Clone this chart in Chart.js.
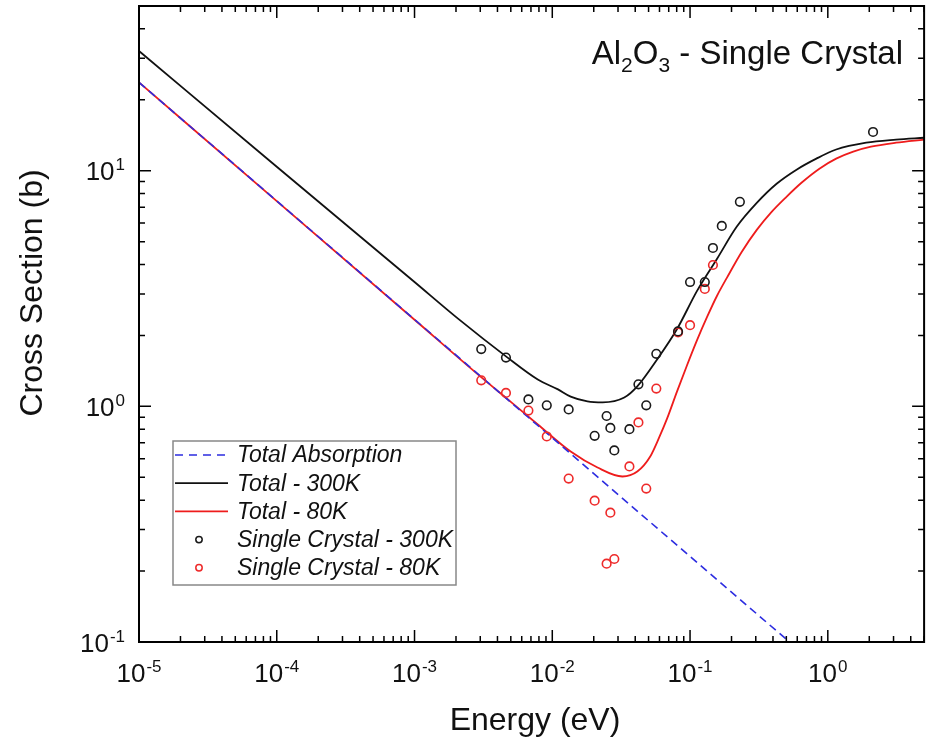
<!DOCTYPE html>
<html>
<head>
<meta charset="utf-8">
<script src="https://cdn.jsdelivr.net/npm/chart.js@4.4.1/dist/chart.umd.min.js"></script>
<style>
  html, body { margin: 0; padding: 0; background: #fff; }
  canvas { display: block; }
</style>
</head>
<body>
<canvas id="chartAl2O3" width="930" height="740"></canvas>
<script>
// Total absorption (1/v line), read where it enters and leaves the frame
const absEnergy = [1e-5, 0.527];
const absSigma = [23.7, 0.1];

// Total cross section, 300 K
const total300Energy = [1e-5, 1e-4, 1e-3, 2.08e-3, 4.61e-3, 7.85e-3, 0.011, 0.0136, 0.018, 0.0232,
  0.0333, 0.0414, 0.0578, 0.0805, 0.1124, 0.1567, 0.218, 0.305, 0.425, 0.593,
  0.826, 1.15, 1.9, 3.13, 5.0];
const total300Sigma = [32.2, 10.4, 3.37, 2.35, 1.63, 1.3, 1.18, 1.1, 1.05, 1.04,
  1.09, 1.216, 1.585, 2.13, 3.09, 4.22, 5.78, 7.3, 8.8, 10.1,
  11.25, 12.3, 13.15, 13.55, 13.8];

// Total cross section, 80 K
const total80Energy = [1e-5, 1e-4, 1e-3, 3e-3, 5e-3, 7.85e-3, 0.0136, 0.0213, 0.0323, 0.0414,
  0.0514, 0.0597, 0.0682, 0.0805, 0.0951, 0.1124, 0.1327, 0.1567, 0.185, 0.237,
  0.305, 0.391, 0.501, 0.644, 0.869, 1.15, 1.53, 2.06, 3.13, 5.0];
const total80Sigma = [23.7, 7.43, 2.33, 1.34, 1.045, 0.838, 0.643, 0.55, 0.504, 0.529,
  0.613, 0.738, 0.889, 1.158, 1.495, 1.91, 2.39, 2.94, 3.51, 4.52,
  5.61, 6.69, 7.75, 8.89, 10.2, 11.25, 12.05, 12.65, 13.15, 13.55];

// Measured single crystal, 300 K
const crystal300Energy = [3.05e-3, 4.61e-3, 6.71e-3, 9.12e-3, 0.01315, 0.0203, 0.0248, 0.0264, 0.0282, 0.0363,
  0.0422, 0.0481, 0.0569, 0.0818, 0.1, 0.128, 0.1466, 0.17, 0.23, 2.13];
const crystal300Sigma = [1.75, 1.61, 1.07, 1.01, 0.97, 0.75, 0.91, 0.81, 0.65, 0.8,
  1.24, 1.01, 1.67, 2.08, 3.37, 3.37, 4.7, 5.83, 7.38, 14.6];

// Measured single crystal, 80 K
const crystal80Energy = [3.05e-3, 4.61e-3, 6.71e-3, 9.12e-3, 0.01315, 0.0203, 0.0248, 0.0264, 0.0282, 0.0363,
  0.0422, 0.0481, 0.0569, 0.0818, 0.1, 0.128, 0.1466];
const crystal80Sigma = [1.29, 1.14, 0.96, 0.745, 0.494, 0.398, 0.215, 0.354, 0.225, 0.556,
  0.855, 0.448, 1.19, 2.06, 2.21, 3.15, 3.98];

const xTickExponents = [-5, -4, -3, -2, -1, 0];
const yTickExponents = [-1, 0, 1];
const X_MIN = 1e-5;
const X_MAX = 5;
const Y_MIN = 0.1;
const Y_MAX = 50;

const FONT = '"Liberation Sans", Arial, Helvetica, sans-serif';

const toPoints = (xs, ys) => xs.map((x, i) => ({ x, y: ys[i] }));

function drawPower(ctx, exp, x, baseline, align) {
  ctx.font = `26px ${FONT}`;
  const wBase = ctx.measureText('10').width;
  ctx.font = `17px ${FONT}`;
  const wExp = ctx.measureText(String(exp)).width;
  const total = wBase + wExp + 1;
  const left = align === 'center' ? x - total / 2 : x - total;
  ctx.textAlign = 'left';
  ctx.textBaseline = 'alphabetic';
  ctx.font = `26px ${FONT}`;
  ctx.fillText('10', left, baseline);
  ctx.font = `17px ${FONT}`;
  ctx.fillText(String(exp), left + wBase + 1, baseline - 10);
}

const decorPlugin = {
  id: 'decor',
  afterDatasetsDraw(chart) {
    const { ctx, chartArea: a, scales: { x, y } } = chart;
    ctx.save();
    ctx.strokeStyle = '#000';

    // inward ticks on all four sides
    ctx.lineWidth = 1.5;
    ctx.beginPath();
    for (let d = -5; d <= 0; d++) {
      for (let m = 1; m <= 9; m++) {
        const v = m * Math.pow(10, d);
        if (v < X_MIN || v > X_MAX) continue;
        const px = x.getPixelForValue(v);
        const len = m === 1 ? 12 : 6;
        ctx.moveTo(px, a.bottom); ctx.lineTo(px, a.bottom - len);
        ctx.moveTo(px, a.top); ctx.lineTo(px, a.top + len);
      }
    }
    for (let d = -1; d <= 1; d++) {
      for (let m = 1; m <= 9; m++) {
        const v = m * Math.pow(10, d);
        if (v < Y_MIN || v > Y_MAX) continue;
        const py = y.getPixelForValue(v);
        const len = m === 1 ? 12 : 6;
        ctx.moveTo(a.left, py); ctx.lineTo(a.left + len, py);
        ctx.moveTo(a.right, py); ctx.lineTo(a.right - len, py);
      }
    }
    ctx.stroke();

    // frame
    ctx.lineWidth = 2;
    ctx.strokeRect(a.left, a.top, a.right - a.left, a.bottom - a.top);

    // tick labels
    ctx.fillStyle = '#111';
    xTickExponents.forEach((e) => {
      drawPower(ctx, e, x.getPixelForValue(Math.pow(10, e)), a.bottom + 40, 'center');
    });
    yTickExponents.forEach((e) => {
      drawPower(ctx, e, a.left - 14, y.getPixelForValue(Math.pow(10, e)) + 9.5, 'right');
    });

    // axis titles
    ctx.font = `32px ${FONT}`;
    ctx.textAlign = 'center';
    ctx.textBaseline = 'alphabetic';
    ctx.fillText('Energy (eV)', 535, 730);
    ctx.save();
    ctx.translate(42, 293);
    ctx.rotate(-Math.PI / 2);
    ctx.fillText('Cross Section (b)', 0, 0);
    ctx.restore();

    // plot title with subscripts
    const parts = [['Al', false], ['2', true], ['O', false], ['3', true], [' - Single Crystal', false]];
    const widths = parts.map(([t, sub]) => {
      ctx.font = `${sub ? 21 : 33}px ${FONT}`;
      return ctx.measureText(t).width;
    });
    let tx = 903 - widths.reduce((s, w) => s + w, 0);
    ctx.textAlign = 'left';
    parts.forEach(([t, sub], i) => {
      ctx.font = `${sub ? 21 : 33}px ${FONT}`;
      ctx.fillText(t, tx, sub ? 72 : 64);
      tx += widths[i];
    });

    // legend box
    const box = { left: 173, top: 441, right: 456, bottom: 585 };
    ctx.fillStyle = '#fff';
    ctx.fillRect(box.left, box.top, box.right - box.left, box.bottom - box.top);
    ctx.strokeStyle = '#888';
    ctx.lineWidth = 1.5;
    ctx.strokeRect(box.left, box.top, box.right - box.left, box.bottom - box.top);

    chart.data.datasets.forEach((ds, i) => {
      const ry = 455 + i * 28.2;
      if (ds.showLine) {
        ctx.strokeStyle = ds.borderColor;
        ctx.lineWidth = ds.borderWidth;
        ctx.setLineDash(ds.borderDash ? [8, 6] : []);
        ctx.beginPath();
        ctx.moveTo(box.left + 2, ry);
        ctx.lineTo(228, ry);
        ctx.stroke();
        ctx.setLineDash([]);
      } else {
        ctx.strokeStyle = ds.borderColor;
        ctx.lineWidth = 1.5;
        ctx.beginPath();
        ctx.arc(199, ry, 3.2, 0, Math.PI * 2);
        ctx.stroke();
      }
      ctx.fillStyle = '#111';
      ctx.font = `italic 23px ${FONT}`;
      ctx.textAlign = 'left';
      ctx.textBaseline = 'middle';
      ctx.fillText(ds.label, 237, ry + 1);
    });
    ctx.restore();
  },
};

const lineBase = { showLine: true, pointRadius: 0, fill: false, cubicInterpolationMode: 'monotone' };
const markerBase = { showLine: false, pointRadius: 4.3, pointBorderWidth: 1.6, pointBackgroundColor: 'rgba(0,0,0,0)', pointStyle: 'circle' };

new Chart(document.getElementById('chartAl2O3').getContext('2d'), {
  type: 'scatter',
  data: {
    datasets: [
      { ...lineBase, label: 'Total Absorption', data: toPoints(absEnergy, absSigma),
        borderColor: '#2d2de0', borderWidth: 1.6, borderDash: [8, 5], cubicInterpolationMode: 'default', order: 1 },
      { ...lineBase, label: 'Total - 300K', data: toPoints(total300Energy, total300Sigma),
        borderColor: '#111', borderWidth: 1.8, order: 2 },
      { ...lineBase, label: 'Total - 80K', data: toPoints(total80Energy, total80Sigma),
        borderColor: '#ee1c1c', borderWidth: 1.8, order: 3 },
      { ...markerBase, label: 'Single Crystal - 300K', data: toPoints(crystal300Energy, crystal300Sigma),
        borderColor: '#1a1a1a', pointBorderColor: '#1a1a1a', order: 0 },
      { ...markerBase, label: 'Single Crystal - 80K', data: toPoints(crystal80Energy, crystal80Sigma),
        borderColor: '#ee2a2a', pointBorderColor: '#ee2a2a', order: 0 },
    ],
  },
  options: {
    responsive: false,
    devicePixelRatio: 1,
    animation: false,
    layout: { padding: { left: 139, right: 2, top: 6, bottom: 98 } },
    scales: {
      x: { type: 'logarithmic', min: X_MIN, max: X_MAX, display: false },
      y: { type: 'logarithmic', min: Y_MIN, max: Y_MAX, display: false },
    },
    plugins: {
      legend: { display: false },
      tooltip: { enabled: false },
    },
  },
  plugins: [decorPlugin],
});
</script>
</body>
</html>
